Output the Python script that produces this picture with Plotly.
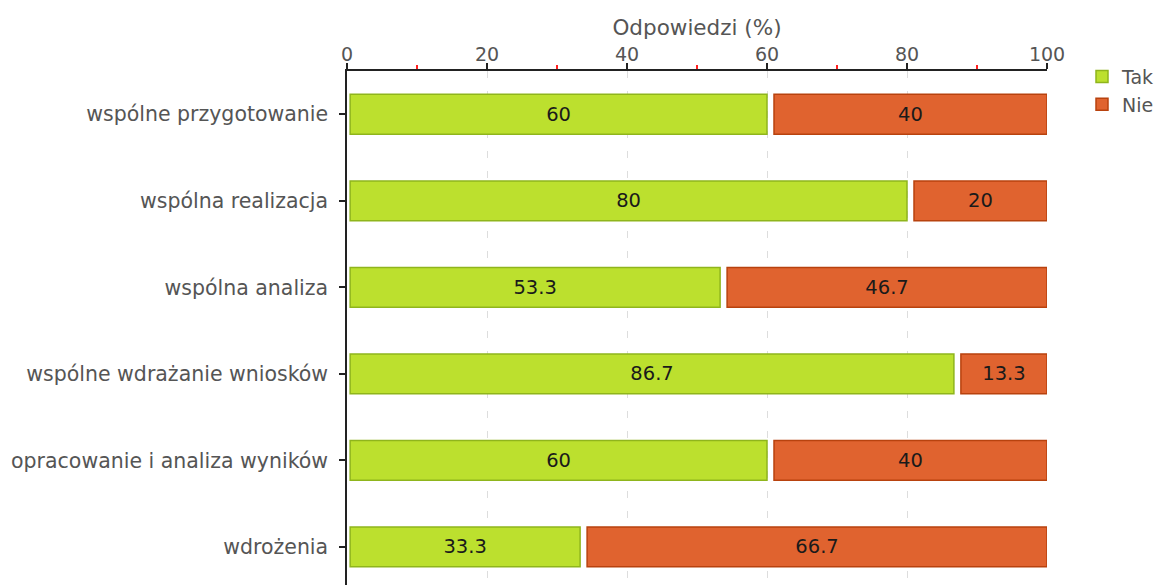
import plotly.graph_objects as go

categories = ["wspólne przygotowanie", "wspólna realizacja", "wspólna analiza",
              "wspólne wdrażanie wniosków", "opracowanie i analiza wyników", "wdrożenia"]
tak = [60, 80, 53.3, 86.7, 60, 33.3]
nie = [40, 20, 46.7, 13.3, 40, 66.7]
x_ticks = [0, 20, 40, 60, 80, 100]

GREEN = "#bce02e"
GREEN_LINE = "#8fb51c"
ORANGE = "#e0632f"
ORANGE_LINE = "#b8420e"
FONT = "DejaVu Sans"
LEFT_PAD = 0.45   # visual gap between axis and first segment (style)
GAP = 1.0         # visual gap between segments (style)

fig = go.Figure()
fig.add_trace(go.Bar(
    y=categories, x=[v - LEFT_PAD for v in tak], base=[LEFT_PAD] * len(tak),
    orientation="h", name="Tak", width=0.46,
    marker=dict(color=GREEN, line=dict(color=GREEN_LINE, width=1.5)),
    text=[f"{v:g}" for v in tak], textposition="inside", insidetextanchor="middle",
    textfont=dict(family=FONT, size=19.5, color="#1a1a1a"), hoverinfo="skip",
))
fig.add_trace(go.Bar(
    y=categories, x=[n - GAP for n in nie], base=[t + GAP for t in tak],
    orientation="h", name="Nie", width=0.46,
    marker=dict(color=ORANGE, line=dict(color=ORANGE_LINE, width=1.5)),
    text=[f"{v:g}" for v in nie], textposition="inside", insidetextanchor="middle",
    textfont=dict(family=FONT, size=19.5, color="#1a1a1a"), hoverinfo="skip",
))

fig.update_layout(
    width=1155, height=577,
    margin=dict(l=339, r=116, t=63, b=0, autoexpand=False),
    barmode="overlay",
    plot_bgcolor="white", paper_bgcolor="white",
    font=dict(family=FONT, size=19, color="#555555"),
    uniformtext=dict(mode="show", minsize=10),
    legend=dict(x=1.05, y=1.026, xanchor="left", yanchor="top", traceorder="normal",
                font=dict(family=FONT, size=19, color="#555555"),
                itemwidth=30, tracegroupgap=0, bgcolor="rgba(0,0,0,0)",
                borderwidth=0),
    showlegend=True,
)
fig.update_xaxes(
    automargin=False,
    side="top", range=[0, 100], tickvals=x_ticks, ticktext=[str(t) for t in x_ticks],
    showline=True, linecolor="#222222", linewidth=1.5,
    ticks="outside", ticklen=6, tickcolor="#222222", tickwidth=1.5,
    ticklabelstandoff=-5,
    showgrid=True, gridcolor="#dddddd", griddash="7px,13px", gridwidth=1,
    zeroline=False,
    minor=dict(tickvals=[10, 30, 50, 70, 90], ticks="outside", ticklen=4,
               tickcolor="#ff2020", tickwidth=1.5, showgrid=False),
    title=dict(text="Odpowiedzi (%)", standoff=1,
               font=dict(family=FONT, size=21.5, color="#555555")),
    tickfont=dict(family=FONT, size=19, color="#555555"),
)
fig.update_yaxes(
    automargin=False,
    type="category", categoryorder="array", categoryarray=categories,
    range=[5.44, -0.5],
    showline=True, linecolor="#222222", linewidth=1.5,
    ticks="outside", ticklen=6, tickcolor="#222222", tickwidth=1.5,
    ticklabelstandoff=7,
    showgrid=False, zeroline=False,
    tickfont=dict(family=FONT, size=20.5, color="#555555"),
)

fig.write_html("out.html")
